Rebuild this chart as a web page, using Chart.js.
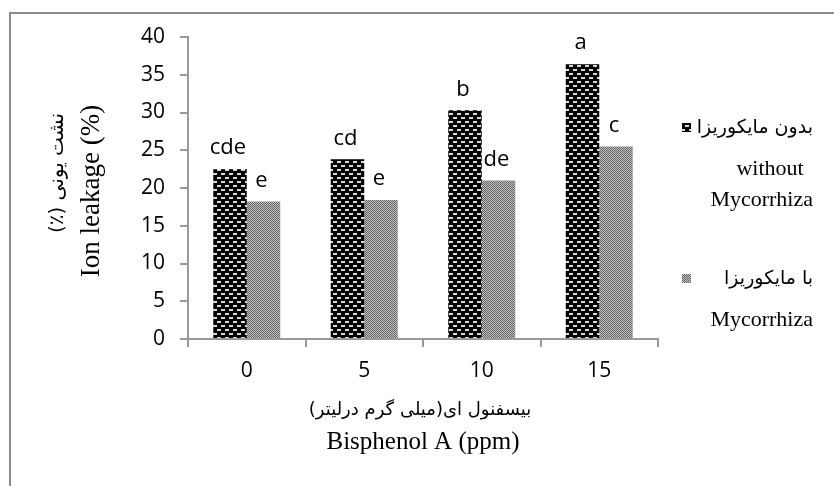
<!DOCTYPE html>
<html>
<head>
<meta charset="utf-8">
<script src="https://cdn.jsdelivr.net/npm/chart.js@4"></script>
<style>
  html, body { margin: 0; padding: 0; background: #fff; }
  #wrap { width: 834px; height: 486px; }
</style>
</head>
<body>
<div id="wrap"><canvas id="chart" width="834" height="486"></canvas></div>
<script>
// datos
const categories = ['0', '5', '10', '15'];
const withoutMyco = [22.5, 23.8, 30.3, 36.4];
const withMyco = [18.2, 18.4, 21.0, 25.5];
const lettersWithout = ['cde', 'cd', 'b', 'a'];
const lettersWith = ['e', 'e', 'de', 'c'];
const seriesFa = ['بدون مایکوریزا', 'با مایکوریزا'];
const seriesEn = [['without', 'Mycorrhiza'], ['Mycorrhiza']];
const yTitleFa = 'نشت یونی (٪)';
const yTitleEn = 'Ion leakage (%)';
const xTitleFa = 'بیسفنول ای(میلی گرم درلیتر)';
const xTitleEn = 'Bisphenol A (ppm)';

const sansFont = "'Open Sans', Lato, sans-serif";
const serifFont = "'Liberation Serif', 'DejaVu Serif', serif";
const faFont = "'DejaVu Sans', sans-serif";

// tramas de relleno
const ctx0 = document.getElementById('chart').getContext('2d');
const darkTile = document.createElement('canvas');
darkTile.width = 8; darkTile.height = 8;
(function (g) {
  g.fillStyle = '#000'; g.fillRect(0, 0, 8, 8);
  g.fillStyle = '#d8d8d8';
  g.fillRect(1, 1, 4, 2);
  g.fillRect(5, 5, 3, 2); g.fillRect(0, 5, 1, 2);
})(darkTile.getContext('2d'));
const darkPattern = ctx0.createPattern(darkTile, 'repeat');
const lightTile = document.createElement('canvas');
lightTile.width = 2; lightTile.height = 2;
(function (g) {
  g.fillStyle = '#c0c0c0'; g.fillRect(0, 0, 2, 2);
  g.fillStyle = '#666'; g.fillRect(0, 0, 1, 1); g.fillRect(1, 1, 1, 1);
})(lightTile.getContext('2d'));
const lightPattern = ctx0.createPattern(lightTile, 'repeat');

const framePlugin = {
  id: 'frame',
  beforeDraw(chart) {
    const c = chart.ctx;
    c.save();
    c.strokeStyle = '#8c8c8c';
    c.lineWidth = 2;
    c.beginPath();
    c.moveTo(10, chart.height);
    c.lineTo(10, 13);
    c.lineTo(chart.width, 13);
    c.stroke();
    c.restore();
  },
};

// títulos de ejes (persa + inglés, con fuentes distintas)
const titlesPlugin = {
  id: 'axisTitles',
  afterDraw(chart) {
    const c = chart.ctx;
    const a = chart.chartArea;
    const cx = (a.left + a.right) / 2;
    const cy = (a.top + a.bottom) / 2;
    c.save();
    c.fillStyle = '#000';
    c.textAlign = 'center';
    c.textBaseline = 'middle';
    c.direction = 'rtl';
    c.font = `18px ${faFont}`;
    c.fillText(xTitleFa, cx - 3, a.bottom + 71);
    c.direction = 'ltr';
    c.font = `25px ${serifFont}`;
    c.fillText(xTitleEn, cx, a.bottom + 103);
    c.save();
    c.translate(58, cy - 15);
    c.rotate(-Math.PI / 2);
    c.direction = 'rtl';
    c.font = `20px ${faFont}`;
    c.fillText(yTitleFa, 0, 0);
    c.restore();
    c.save();
    c.translate(92, cy + 3);
    c.rotate(-Math.PI / 2);
    c.font = `27px ${serifFont}`;
    c.fillText(yTitleEn, 0, 0);
    c.restore();
    c.restore();
  },
};

const lettersPlugin = {
  id: 'letters',
  afterDatasetsDraw(chart) {
    const c = chart.ctx;
    const sets = [lettersWithout, lettersWith];
    c.save();
    c.font = `22px ${sansFont}`;
    c.fillStyle = '#000';
    c.textAlign = 'center';
    c.textBaseline = 'middle';
    sets.forEach((letters, di) => {
      chart.getDatasetMeta(di).data.forEach((bar, i) => {
        c.fillText(letters[i], bar.x - 2, bar.y - 21);
      });
    });
    c.restore();
  },
};

const legendPlugin = {
  id: 'sideLegend',
  afterDraw(chart) {
    const c = chart.ctx;
    const pats = [darkPattern, lightPattern];
    const tops = [128, 279];
    c.save();
    c.textBaseline = 'middle';
    seriesFa.forEach((name, i) => {
      const y = tops[i];
      c.fillStyle = pats[i];
      c.fillRect(682, y - 5, 9, 9);
      c.fillStyle = '#000';
      c.textAlign = 'right';
      c.direction = 'rtl';
      c.font = `19px ${faFont}`;
      c.fillText(name, 813, y);
      c.direction = 'ltr';
      c.font = `22px ${serifFont}`;
      seriesEn[i].forEach((line, j) => {
        const yy = y + 41 + j * 31;
        if (line === 'without') { c.textAlign = 'center'; c.fillText(line, 770, yy); }
        else { c.textAlign = 'right'; c.fillText(line, 813, yy); }
      });
    });
    c.restore();
  },
};

new Chart(document.getElementById('chart'), {
  type: 'bar',
  data: {
    labels: categories,
    datasets: [
      { label: seriesFa[0], data: withoutMyco, backgroundColor: darkPattern, borderWidth: 0 },
      { label: seriesFa[1], data: withMyco, backgroundColor: lightPattern, borderWidth: 0 },
    ],
  },
  options: {
    responsive: false,
    animation: false,
    events: [],
    layout: { padding: { top: 37, right: 176, left: 0, bottom: 0 } },
    datasets: { bar: { categoryPercentage: 0.57, barPercentage: 1 } },
    plugins: { legend: { display: false }, tooltip: { enabled: false } },
    scales: {
      x: {
        afterFit: (s) => { s.height = 147; },
        grid: { drawOnChartArea: false, drawTicks: true, tickLength: 8, color: '#999', lineWidth: 2 },
        border: { color: '#999', width: 2 },
        ticks: { color: '#000', font: { family: sansFont, size: 21 }, padding: 11 },
      },
      y: {
        min: 0, max: 40,
        afterFit: (s) => { s.width = 188; },
        grid: { drawOnChartArea: false, drawTicks: true, tickLength: 8, color: '#999', lineWidth: 2 },
        border: { color: '#999', width: 2 },
        ticks: { stepSize: 5, color: '#000', font: { family: sansFont, size: 21 }, padding: 15 },
      },
    },
  },
  plugins: [framePlugin, lettersPlugin, titlesPlugin, legendPlugin],
});
</script>
</body>
</html>
